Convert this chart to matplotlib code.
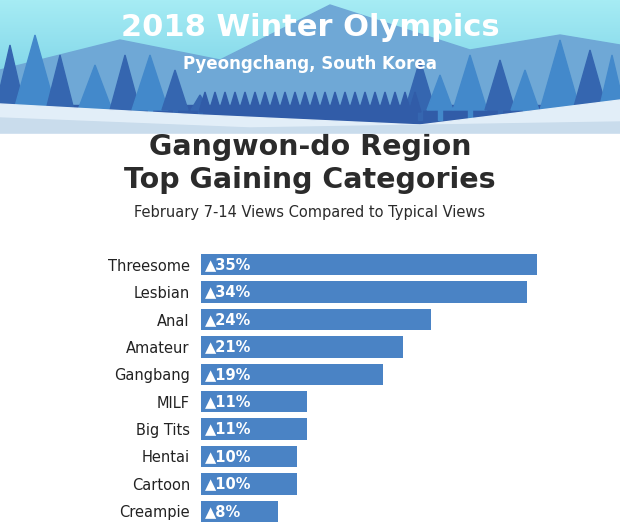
import matplotlib
matplotlib.use("Agg")
import matplotlib.pyplot as plt
from matplotlib.patches import Polygon, Rectangle
from matplotlib.colors import LinearSegmentedColormap
import numpy as np

categories = ["Threesome", "Lesbian", "Anal", "Amateur", "Gangbang", "MILF",
              "Big Tits", "Hentai", "Cartoon", "Creampie"]
values = [35, 34, 24, 21, 19, 11, 11, 10, 10, 8]

W, H = 620, 530
fig = plt.figure(figsize=(6.2, 5.3), dpi=100)
fig.patch.set_facecolor("white")
bg = fig.add_axes([0, 0, 1, 1])
bg.set_xlim(0, W); bg.set_ylim(H, 0); bg.axis("off")

grad = np.linspace(0, 1, 100).reshape(-1, 1)
cm = LinearSegmentedColormap.from_list("sky", ["#a6ecf4", "#6fcbe3"])
bg.imshow(grad, extent=[0, W, 115, 0], cmap=cm, aspect="auto", zorder=0)
bg.add_patch(Polygon([[0, 70], [120, 40], [220, 60], [330, 5], [470, 50], [560, 35], [620, 45], [620, 115], [0, 115]],
                     color="#6fa8d6", zorder=1))
bg.add_patch(Polygon([[0, 105], [620, 105], [620, 125], [0, 125]], color="#315ca8", zorder=2))
trees = [(10, 45, 30, "#3566b0"), (35, 35, 42, "#4389cb"), (60, 55, 28, "#3566b0"), (95, 65, 34, "#4389cb"),
         (125, 55, 30, "#3566b0"), (150, 55, 36, "#4389cb"), (175, 70, 26, "#3566b0"), (200, 95, 18, "#3566b0"),
         (420, 60, 30, "#3566b0"), (440, 75, 26, "#4389cb"), (470, 55, 34, "#4389cb"), (500, 60, 30, "#3566b0"),
         (525, 70, 28, "#4389cb"), (560, 40, 40, "#4389cb"), (590, 50, 34, "#3566b0"), (612, 55, 26, "#4389cb")]
for cx, top, w, c in trees:
    bg.add_patch(Polygon([[cx, top], [cx - w / 2, 110], [cx + w / 2, 110]], color=c, zorder=3))
    bg.add_patch(Rectangle((cx - 2, 105), 4, 15, color=c, zorder=3))
for cx in range(205, 420, 10):
    bg.add_patch(Polygon([[cx, 92], [cx - 6, 112], [cx + 6, 112]], color="#315ca8", zorder=3))
bg.add_patch(Polygon([[0, 104], [200, 115], [420, 125], [620, 100], [620, 133], [0, 133]], color="#e2eef8", zorder=4))
bg.add_patch(Polygon([[0, 118], [250, 128], [620, 122], [620, 133], [0, 133]], color="#c9dcec", zorder=5))

bg.text(310, 27, "2018 Winter Olympics", ha="center", va="center", color="white",
        fontsize=22, fontweight="bold", family="DejaVu Sans", zorder=10)
bg.text(310, 64, "Pyeongchang, South Korea", ha="center", va="center", color="white",
        fontsize=12, fontweight="bold", family="DejaVu Sans", zorder=10)
bg.text(310, 147, "Gangwon-do Region", ha="center", va="center", color="#2b2b2b",
        fontsize=20.5, fontweight="bold", family="DejaVu Sans")
bg.text(310, 180, "Top Gaining Categories", ha="center", va="center", color="#2b2b2b",
        fontsize=20.5, fontweight="bold", family="DejaVu Sans")
bg.text(310, 212, "February 7-14 Views Compared to Typical Views", ha="center", va="center",
        color="#2b2b2b", fontsize=10.5, family="DejaVu Sans")

xmax = 40
ax = fig.add_axes([201 / W, 5 / H, 384 / W, (525 - 251) / H])
ax.set_xlim(0, xmax)
ax.set_ylim(len(values) - 0.5, -0.5)
y = np.arange(len(values))
ax.barh(y, values, height=0.78, color="#4a83c5")
for yi, v in zip(y, values):
    ax.text(0.4, yi, f"▲{v}%", va="center", ha="left", color="white", fontsize=10.5, fontweight="bold")
ax.set_yticks(y)
ax.set_yticklabels(categories, fontsize=10.5, color="#222222")
ax.tick_params(axis="y", length=0, pad=8)
ax.set_xticks([])
for s in ax.spines.values():
    s.set_visible(False)
ax.patch.set_alpha(0)

fig.savefig("out.png", dpi=100, facecolor="white")
